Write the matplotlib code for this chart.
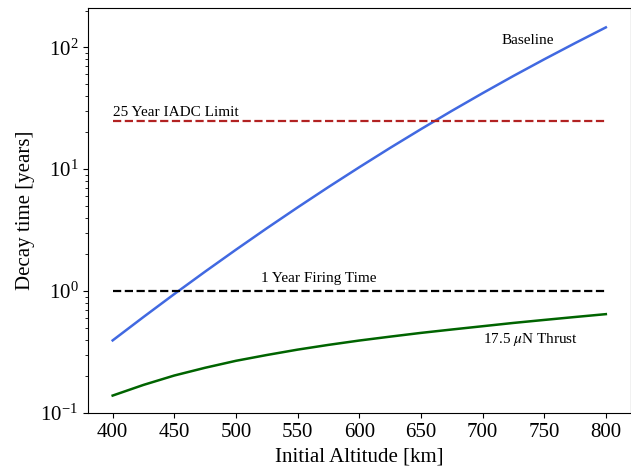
import numpy as np
import matplotlib
matplotlib.use("Agg")
from matplotlib import pyplot as plt

plt.rcParams['font.family'] = 'serif'
plt.rcParams['font.serif'] = ['Liberation Serif', 'DejaVu Serif']
plt.rcParams['mathtext.fontset'] = 'stix'

# initial altitude [km]
altitude = [400, 425, 450, 475, 500, 525, 550, 575, 600,
            625, 650, 675, 700, 725, 750, 775, 800]

# decay time without propulsion [years]
baseline = [0.394, 0.613, 0.946, 1.445, 2.186, 3.275, 4.857, 7.135, 10.37,
            14.94, 21.29, 30.06, 42.0, 58.15, 79.65, 108.1, 145.6]

# decay time with 17.5 uN thrust [years]
thrust = [0.139, 0.170, 0.203, 0.235, 0.268, 0.299, 0.331, 0.362, 0.393,
          0.423, 0.454, 0.484, 0.515, 0.548, 0.580, 0.613, 0.647]

iadc_limit = 25.0
firing_time = 1.0

fig = plt.figure(figsize=(6.31, 4.68), dpi=100)
ax = fig.add_axes([88 / 631, 55 / 468, 542.5 / 631, 405 / 468])

ax.plot(altitude, baseline, color='royalblue', lw=1.8)
ax.plot(altitude, thrust, color='darkgreen', lw=1.8)
ax.plot([altitude[0], altitude[-1]], [iadc_limit, iadc_limit], '--', color='firebrick', lw=1.6)
ax.plot([altitude[0], altitude[-1]], [firing_time, firing_time], '--', color='black', lw=1.6)

ax.text(715, 100, 'Baseline', fontsize=11, va='bottom')
ax.text(400, 26, '25 Year IADC Limit', fontsize=11, va='bottom')
ax.text(520, 1.18, '1 Year Firing Time', fontsize=11)
ax.text(700, 0.375, r'17.5 $\mu$N Thrust', fontsize=11)

ax.set_yscale('log')
ax.set_xlim(380, 820)
ax.set_ylim(0.1, 210)
ax.set_xticks([400, 450, 500, 550, 600, 650, 700, 750, 800])
ax.tick_params(labelsize=15)
ax.set_xlabel('Initial Altitude [km]', fontsize=15)
ax.set_ylabel('Decay time [years]', fontsize=15)

fig.savefig('out.png', dpi=100)
